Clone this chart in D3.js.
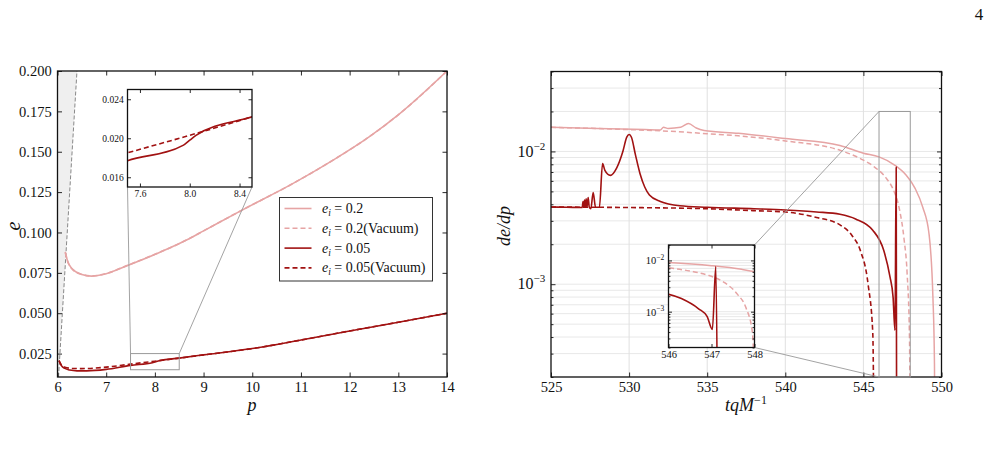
<!DOCTYPE html>
<html>
<head>
<meta charset="utf-8">
<script src="https://cdn.jsdelivr.net/npm/d3@7"></script>
<style>
  body { margin: 0; background: #fff; }
</style>
</head>
<body>
<script>
// left panel: eccentricity e against p
const pinkP = [6.16, 6.2, 6.3, 6.5, 6.7, 7.0, 7.45, 8.0, 8.65, 9.0, 9.8, 10.84, 11.66, 12.4, 13.03, 14.0];
const pinkE = [0.088, 0.083, 0.0775, 0.0740, 0.0730, 0.0745, 0.0797, 0.0864, 0.0953, 0.101, 0.114, 0.1304, 0.1448, 0.1592, 0.1736, 0.200];
const pinkVacE = [0.0875, 0.0828, 0.0774, 0.0740, 0.0731, 0.0746, 0.0798, 0.0865, 0.0953, 0.101, 0.114, 0.1304, 0.1448, 0.1592, 0.1736, 0.200];

const redP = [6.03, 6.08, 6.15, 6.25, 6.4, 6.6, 7.0, 7.5, 7.95, 8.0, 8.05, 8.5, 9.0, 10.0, 11.0, 12.0, 13.0, 14.0];
const redE = [0.0208, 0.0175, 0.0158, 0.0148, 0.0143, 0.0143, 0.0152, 0.0177, 0.0193, 0.0198, 0.0203, 0.0222, 0.0242, 0.0281, 0.0334, 0.0390, 0.0444, 0.050];
const redVacP = [6.03, 6.08, 6.15, 6.3, 6.5, 7.0, 7.5, 8.0, 8.5, 9.0, 10.0, 11.0, 12.0, 13.0, 14.0];
const redVacE = [0.0205, 0.0180, 0.0166, 0.0158, 0.0157, 0.0166, 0.0185, 0.0203, 0.0222, 0.0242, 0.0281, 0.0334, 0.0390, 0.0444, 0.050];

// separatrix p = 6 + 2e
const sepE = [0.0105, 0.200];
const sepP = [6.021, 6.400];

const leftXTicks = [6, 7, 8, 9, 10, 11, 12, 13, 14];
const leftYTicks = [0.025, 0.050, 0.075, 0.100, 0.125, 0.150, 0.175, 0.200];
const leftInsetXTicks = [7.6, 8.0, 8.4];
const leftInsetYTicks = [0.016, 0.020, 0.024];

const legendLabels = [["0.2", ""], ["0.2", "(Vacuum)"], ["0.05", ""], ["0.05", "(Vacuum)"]];

// right panel: de/dp against t
const pinkT = [525, 528, 531, 532.0, 532.2, 532.5, 533.3, 533.8, 534.3, 534.8, 537, 540, 543.5, 545, 546, 547, 547.7, 548.3, 548.8, 549.2, 549.45, 549.55, 549.62];
const pinkD = [0.0152, 0.0149, 0.0146, 0.0145, 0.0152, 0.0149, 0.0152, 0.0162, 0.0150, 0.0144, 0.0137, 0.0125, 0.0111, 0.0097, 0.0091, 0.0079, 0.0067, 0.0053, 0.0038, 0.0024, 0.0008, 0.00025, 0.00001];
const pinkVacT = [525, 530, 533, 535, 537, 540, 543.5, 545, 545.6, 546.5, 546.9, 547.3, 547.6, 547.8, 547.95, 548.02];
const pinkVacD = [0.0152, 0.0146, 0.0141, 0.0136, 0.0131, 0.0120, 0.0102, 0.0086, 0.0078, 0.0062, 0.0052, 0.0037, 0.0022, 0.0012, 0.0004, 0.00001];

const redT = [525, 526, 527, 527.05, 527.1, 527.15, 527.2, 527.25, 527.3, 527.38, 527.45, 527.55, 527.7, 527.85, 528.1, 528.3, 528.45, 528.8, 529.2, 529.6, 529.85, 530.0, 530.15, 530.4, 530.7, 531.0, 531.3, 532, 533.25, 535, 538, 540, 542, 543.5, 544.5, 545.6, 546.3, 546.7, 546.9, 547.02, 547.1, 547.14];
const redD = [0.00381, 0.00380, 0.00378, 0.0042, 0.0038, 0.0043, 0.0038, 0.0044, 0.0038, 0.0045, 0.0038, 0.0037, 0.0049, 0.0038, 0.0038, 0.0081, 0.0072, 0.0066, 0.0075, 0.0100, 0.0128, 0.0134, 0.0128, 0.0095, 0.0068, 0.0054, 0.0047, 0.0042, 0.0039, 0.0038, 0.0037, 0.00362, 0.0035, 0.00336, 0.0031, 0.00255, 0.0018, 0.00114, 0.0008, 0.00045, 0.0076, 0.00001];
const redVacT = [525, 530, 535, 538, 540, 542, 543.5, 544.3, 544.8, 545.3, 545.6, 545.72];
const redVacD = [0.00381, 0.00378, 0.0037, 0.00358, 0.0035, 0.00318, 0.0028, 0.0023, 0.0018, 0.0010, 0.00043, 0.00001];

const rightXTicks = [525, 530, 535, 540, 545, 550];
const rightInsetXTicks = [546, 547, 548];
const logMajors = [1e-3, 1e-2];

const pink = "#e6a4a4";
const red = "#a11212";
const serif = "Liberation Serif";

const width = 989, height = 463;
const svg = d3.select("body").append("svg").attr("width", width).attr("height", height)
    .attr("font-family", serif);

svg.append("text").attr("x", 979).attr("y", 20).attr("text-anchor", "middle")
    .attr("font-size", 17).attr("fill", "#111").text("4");

const zip = (xs, ys) => xs.map((x, i) => [x, ys[i]]);

// ticks inward on all four sides, returns the labelled axes
const frameAxes = (g, x, y, box, xTicks, yTicks, xFmt, yFmt, fs, tl, yMinor) => {
    const clean = a => a.select(".domain").remove();
    const bottom = g.append("g").attr("transform", `translate(0,${box.y1})`)
        .call(d3.axisBottom(x).tickValues(xTicks).tickSize(-tl).tickPadding(fs * 0.3).tickFormat(xFmt)).call(clean);
    g.append("g").attr("transform", `translate(0,${box.y0})`)
        .call(d3.axisTop(x).tickValues(xTicks).tickSize(-tl).tickFormat("")).call(clean);
    const left = g.append("g").attr("transform", `translate(${box.x0},0)`)
        .call(d3.axisLeft(y).tickValues(yTicks).tickSize(-tl).tickPadding(fs * 0.4).tickFormat(yFmt)).call(clean);
    g.append("g").attr("transform", `translate(${box.x1},0)`)
        .call(d3.axisRight(y).tickValues(yTicks).tickSize(-tl).tickFormat("")).call(clean);
    if (yMinor) {
        g.append("g").attr("transform", `translate(${box.x0},0)`)
            .call(d3.axisLeft(y).tickValues(yMinor).tickSize(-tl * 0.55).tickFormat("")).call(clean);
        g.append("g").attr("transform", `translate(${box.x1},0)`)
            .call(d3.axisRight(y).tickValues(yMinor).tickSize(-tl * 0.55).tickFormat("")).call(clean);
    }
    g.selectAll("g").attr("font-family", serif);
    g.selectAll(".tick text").attr("font-size", fs).attr("fill", "#111")
        .style("font-family", "'Liberation Serif', serif");
    g.selectAll(".tick line").attr("stroke", "#111").attr("stroke-width", 0.9);
    g.append("rect").attr("x", box.x0).attr("y", box.y0)
        .attr("width", box.x1 - box.x0).attr("height", box.y1 - box.y0)
        .attr("fill", "none").attr("stroke", "#111").attr("stroke-width", 1.3);
    return { bottom, left };
};

const addClip = (id, box) => {
    svg.append("clipPath").attr("id", id).append("rect")
        .attr("x", box.x0).attr("y", box.y0).attr("width", box.x1 - box.x0).attr("height", box.y1 - box.y0);
};

// 10^-n labels
const powFmt = (axis, fsBase, fsSup, dy) => {
    axis.selectAll(".tick text").each(function (d) {
        const t = d3.select(this);
        t.text("");
        t.append("tspan").attr("font-size", fsBase).text("10");
        t.append("tspan").attr("font-size", fsSup).attr("dy", -dy).text("\u2212" + Math.round(-Math.log10(d)));
    });
};

// ---------------- left panel ----------------
const L = { x0: 57.5, x1: 447, y0: 71, y1: 377 };
const xL = d3.scaleLinear().domain([6, 14]).range([L.x0, L.x1]);
const yL = d3.scaleLinear().domain([0.0105, 0.2]).range([L.y1, L.y0]);
addClip("clipL", L);

const gL = svg.append("g");
const plotL = gL.append("g").attr("clip-path", "url(#clipL)");

// plunge region
plotL.append("path")
    .attr("d", d3.area().x0(xL(6)).x1(d => xL(d[0])).y(d => yL(d[1]))(zip(sepP, sepE)))
    .attr("fill", "#efefef");
plotL.append("path")
    .attr("d", d3.line().x(d => xL(d[0])).y(d => yL(d[1]))(zip(sepP, sepE)))
    .attr("fill", "none").attr("stroke", "#888").attr("stroke-width", 1).attr("stroke-dasharray", "4,2");

const lineOf = (xs, ys, xsc, ysc) => d3.line().curve(d3.curveMonotoneX).x(d => xsc(d[0])).y(d => ysc(d[1]))(zip(xs, ys));
const curvesL = [
    { p: pinkP, e: pinkE, c: pink, dash: null },
    { p: pinkP, e: pinkVacE, c: pink, dash: "5,3" },
    { p: redP, e: redE, c: red, dash: null },
    { p: redVacP, e: redVacE, c: red, dash: "5,3" }
];
curvesL.forEach(s => {
    plotL.append("path").attr("d", lineOf(s.p, s.e, xL, yL))
        .attr("fill", "none").attr("stroke", s.c).attr("stroke-width", 1.6)
        .attr("stroke-dasharray", s.dash);
});

frameAxes(gL, xL, yL, L, leftXTicks, leftYTicks, d3.format("d"), d3.format(".3f"), 14.5, 4.5);

// zoom box and inset
const LI = { x0: 127.5, x1: 252, y0: 89.5, y1: 187 };
const xLI = d3.scaleLinear().domain([7.5, 8.5]).range([LI.x0, LI.x1]);
const yLI = d3.scaleLinear().domain([0.015, 0.025]).range([LI.y1, LI.y0]);
gL.append("rect").attr("x", xL(7.5)).attr("y", yL(0.025))
    .attr("width", xL(8.5) - xL(7.5)).attr("height", yL(0.015) - yL(0.025))
    .attr("fill", "none").attr("stroke", "#999").attr("stroke-width", 1);
gL.append("line").attr("x1", LI.x0).attr("y1", LI.y1).attr("x2", xL(7.5)).attr("y2", yL(0.025))
    .attr("stroke", "#999").attr("stroke-width", 0.9);
gL.append("line").attr("x1", LI.x1).attr("y1", LI.y1).attr("x2", xL(8.5)).attr("y2", yL(0.025))
    .attr("stroke", "#999").attr("stroke-width", 0.9);

const gLI = svg.append("g");
gLI.append("rect").attr("x", LI.x0).attr("y", LI.y0).attr("width", LI.x1 - LI.x0).attr("height", LI.y1 - LI.y0).attr("fill", "#fff");
addClip("clipLI", LI);
const plotLI = gLI.append("g").attr("clip-path", "url(#clipLI)");
curvesL.slice(2).forEach(s => {
    plotLI.append("path").attr("d", lineOf(s.p, s.e, xLI, yLI))
        .attr("fill", "none").attr("stroke", s.c).attr("stroke-width", 1.6)
        .attr("stroke-dasharray", s.dash);
});
frameAxes(gLI, xLI, yLI, LI, leftInsetXTicks, leftInsetYTicks, d3.format(".1f"), d3.format(".3f"), 9.5, 3.5);

// legend
const leg = svg.append("g");
leg.append("rect").attr("x", 279.5).attr("y", 197.5).attr("width", 153).attr("height", 83.5)
    .attr("fill", "#fff").attr("stroke", "#333").attr("stroke-width", 1);
legendLabels.forEach((lab, i) => {
    const s = curvesL[i];
    const yy = 208.5 + i * 19.8;
    leg.append("line").attr("x1", 284.5).attr("x2", 311.5).attr("y1", yy).attr("y2", yy)
        .attr("stroke", s.c).attr("stroke-width", 1.6).attr("stroke-dasharray", s.dash);
    const t = leg.append("text").attr("x", 322).attr("y", yy + 4.5).attr("font-size", 14).attr("fill", "#111");
    t.append("tspan").attr("font-style", "italic").text("e");
    t.append("tspan").attr("font-style", "italic").attr("font-size", 9.5).attr("dy", 3).text("i");
    t.append("tspan").attr("dy", -3).text(" = " + lab[0] + lab[1]);
});

// axis labels
svg.append("text").attr("transform", "translate(20,226) rotate(-90)").attr("text-anchor", "middle")
    .attr("font-size", 20).attr("font-style", "italic").attr("fill", "#111").text("e");
svg.append("text").attr("x", 252).attr("y", 411).attr("text-anchor", "middle")
    .attr("font-size", 18).attr("font-style", "italic").attr("fill", "#111").text("p");

// ---------------- right panel ----------------
const R = { x0: 551, x1: 941.5, y0: 71.5, y1: 377 };
const xR = d3.scaleLinear().domain([525, 550]).range([R.x0, R.x1]);
const yR = d3.scaleLog().domain([2e-4, 0.04]).range([R.y1, R.y0]);
addClip("clipR", R);
const gR = svg.append("g");

const isMajor = v => logMajors.some(m => Math.abs(v - m) < m * 1e-6);

// grid
gR.selectAll(".hgrid").data(yR.ticks()).join("line").attr("class", "hgrid")
    .attr("x1", R.x0).attr("x2", R.x1).attr("y1", d => yR(d)).attr("y2", d => yR(d))
    .attr("stroke", "#e8e8e8").attr("stroke-width", 1);
gR.selectAll(".vgrid").data(rightXTicks.slice(1, -1)).join("line").attr("class", "vgrid")
    .attr("y1", R.y0).attr("y2", R.y1).attr("x1", d => xR(d)).attr("x2", d => xR(d))
    .attr("stroke", "#e0e0e0").attr("stroke-width", 1);

const curvesR = [
    { t: pinkT, d: pinkD, c: pink, dash: null, w: 1.5 },
    { t: pinkVacT, d: pinkVacD, c: pink, dash: "5,3", w: 1.5 },
    { t: redT, d: redD, c: red, dash: null, w: 1.6 },
    { t: redVacT, d: redVacD, c: red, dash: "5,3", w: 1.6 }
];
const plotR = gR.append("g").attr("clip-path", "url(#clipR)");
curvesR.forEach(s => {
    plotR.append("path").attr("d", lineOf(s.t, s.d, xR, yR))
        .attr("fill", "none").attr("stroke", s.c).attr("stroke-width", s.w)
        .attr("stroke-dasharray", s.dash);
});

const axR = frameAxes(gR, xR, yR, R, rightXTicks, logMajors, d3.format("d"), d3.format(".0e"), 14.5, 4.5, yR.ticks().filter(v => !isMajor(v)));
powFmt(axR.left, 16, 11, 7);

// zoom box and inset
const RI = { x0: 668.5, x1: 754.5, y0: 245, y1: 347.5 };
const xRI = d3.scaleLinear().domain([546, 548]).range([RI.x0, RI.x1]);
const yRI = d3.scaleLog().domain([2e-4, 0.02]).range([RI.y1, RI.y0]);
gR.append("rect").attr("x", xR(546)).attr("y", yR(0.02))
    .attr("width", xR(548) - xR(546)).attr("height", yR(2e-4) - yR(0.02))
    .attr("fill", "none").attr("stroke", "#999").attr("stroke-width", 1);
gR.append("line").attr("x1", RI.x1).attr("y1", RI.y0).attr("x2", xR(546)).attr("y2", yR(0.02))
    .attr("stroke", "#999").attr("stroke-width", 0.9);
gR.append("line").attr("x1", RI.x1).attr("y1", RI.y1).attr("x2", xR(546)).attr("y2", yR(2e-4))
    .attr("stroke", "#999").attr("stroke-width", 0.9);

const gRI = svg.append("g");
gRI.append("rect").attr("x", RI.x0).attr("y", RI.y0).attr("width", RI.x1 - RI.x0).attr("height", RI.y1 - RI.y0).attr("fill", "#fff");
gRI.selectAll(".hgrid").data(yRI.ticks()).join("line").attr("class", "hgrid")
    .attr("x1", RI.x0).attr("x2", RI.x1).attr("y1", d => yRI(d)).attr("y2", d => yRI(d))
    .attr("stroke", "#e8e8e8").attr("stroke-width", 1);
addClip("clipRI", RI);
const plotRI = gRI.append("g").attr("clip-path", "url(#clipRI)");
curvesR.slice(0, 3).forEach(s => {
    plotRI.append("path").attr("d", lineOf(s.t, s.d, xRI, yRI))
        .attr("fill", "none").attr("stroke", s.c).attr("stroke-width", s.w)
        .attr("stroke-dasharray", s.dash);
});
const axRI = frameAxes(gRI, xRI, yRI, RI, rightInsetXTicks, logMajors, d3.format("d"), d3.format(".0e"), 10.5, 3.5, yRI.ticks().filter(v => !isMajor(v)));
powFmt(axRI.left, 10.5, 7.5, 4.5);

// axis labels
svg.append("text").attr("transform", "translate(510,226) rotate(-90)").attr("text-anchor", "middle")
    .attr("font-size", 18).attr("font-style", "italic").attr("fill", "#111").text("de/dp");
const xLab = svg.append("text").attr("x", 746).attr("y", 411).attr("text-anchor", "middle")
    .attr("font-size", 18).attr("fill", "#111");
xLab.append("tspan").attr("font-style", "italic").text("tqM");
xLab.append("tspan").attr("font-size", 12).attr("dy", -7).text("\u22121");
</script>
</body>
</html>
